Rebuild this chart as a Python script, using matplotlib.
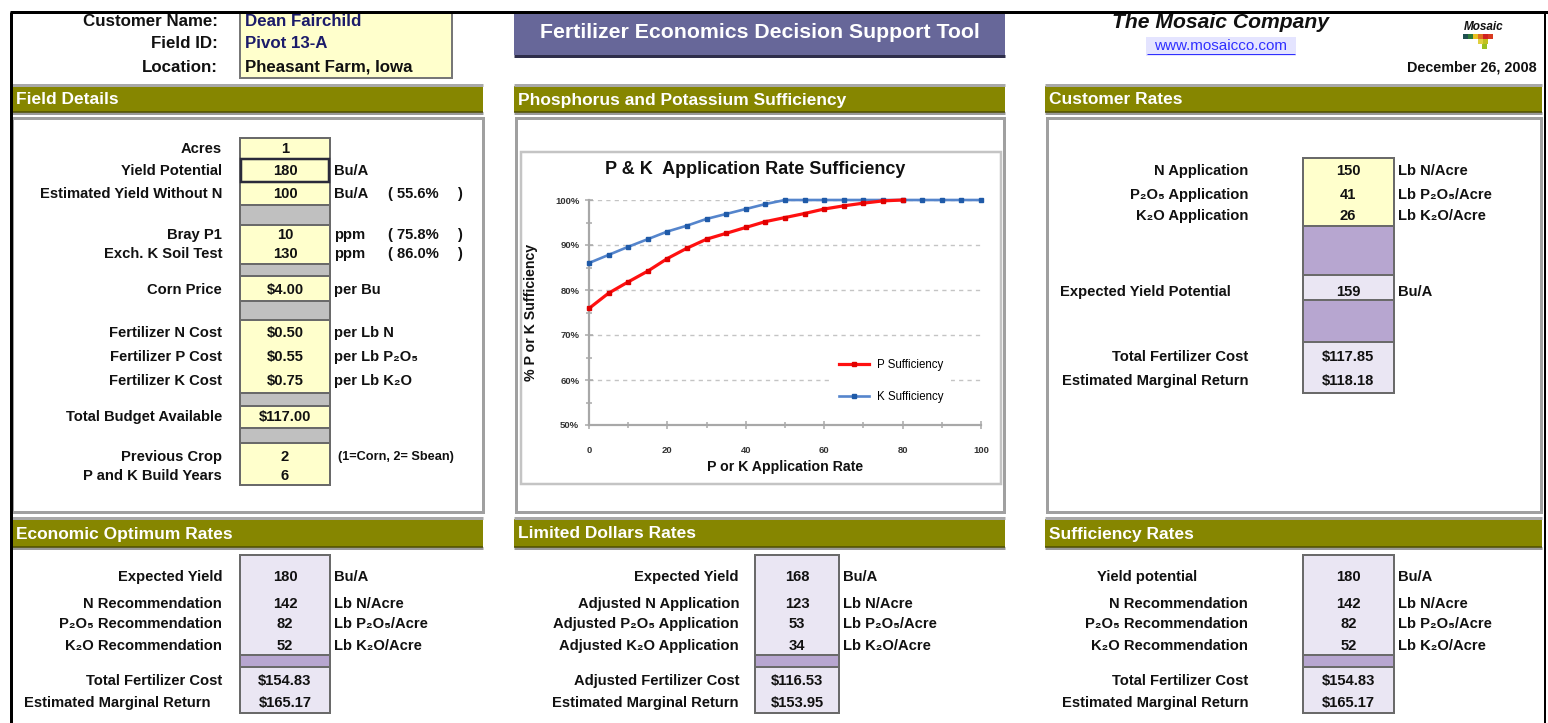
import matplotlib
matplotlib.use('Agg')
import matplotlib.pyplot as plt
from matplotlib.patches import Rectangle
from matplotlib.ticker import MultipleLocator, FuncFormatter

plt.rcParams['font.family'] = ['Liberation Sans', 'DejaVu Sans']

# ---------------- data ----------------
customer_labels = ['Customer Name:', 'Field ID:', 'Location:']
customer_values = ['Dean Fairchild', 'Pivot 13-A', 'Pheasant Farm, Iowa']
tool_title = 'Fertilizer Economics Decision Support Tool'
company = 'The Mosaic Company'
website = 'www.mosaicco.com'
report_date = 'December 26, 2008'

section_titles = ['Field Details', 'Phosphorus and Potassium Sufficiency', 'Customer Rates',
                  'Economic Optimum Rates', 'Limited Dollars Rates', 'Sufficiency Rates']

field_labels = ['Acres', 'Yield Potential', 'Estimated Yield Without N', 'Bray P1',
                'Exch. K Soil Test', 'Corn Price', 'Fertilizer N Cost', 'Fertilizer P Cost',
                'Fertilizer K Cost', 'Total Budget Available', 'Previous Crop', 'P and K Build Years']
field_values = ['1', '180', '100', '10', '130', '$4.00', '$0.50', '$0.55', '$0.75',
                '$117.00', '2', '6']
field_units = ['', 'Bu/A', 'Bu/A', 'ppm', 'ppm', 'per Bu', 'per Lb N', 'per Lb P\u2082O\u2085',
               'per Lb K\u2082O', '', '(1=Corn, 2= Sbean)', '']
field_pcts = ['', '', '55.6%', '75.8%', '86.0%', '', '', '', '', '', '', '']

customer_rate_labels = ['N Application', 'P\u2082O\u2085 Application', 'K\u2082O Application',
                        'Expected Yield Potential', 'Total Fertilizer Cost',
                        'Estimated Marginal Return']
customer_rate_values = ['150', '41', '26', '159', '$117.85', '$118.18']
customer_rate_units = ['Lb N/Acre', 'Lb P\u2082O\u2085/Acre', 'Lb K\u2082O/Acre', 'Bu/A', '', '']

econ_labels = ['Expected Yield', 'N Recommendation', 'P\u2082O\u2085 Recommendation',
               'K\u2082O Recommendation', 'Total Fertilizer Cost', 'Estimated Marginal Return']
econ_values = ['180', '142', '82', '52', '$154.83', '$165.17']
limited_labels = ['Expected Yield', 'Adjusted N Application', 'Adjusted P\u2082O\u2085 Application',
                  'Adjusted K\u2082O Application', 'Adjusted Fertilizer Cost',
                  'Estimated Marginal Return']
limited_values = ['168', '123', '53', '34', '$116.53', '$153.95']
suff_labels = ['Yield potential', 'N Recommendation', 'P\u2082O\u2085 Recommendation',
               'K\u2082O Recommendation', 'Total Fertilizer Cost', 'Estimated Marginal Return']
suff_values = ['180', '142', '82', '52', '$154.83', '$165.17']
bottom_units = ['Bu/A', 'Lb N/Acre', 'Lb P\u2082O\u2085/Acre', 'Lb K\u2082O/Acre', '', '']

chart_title = 'P & K  Application Rate Sufficiency'
x_label = 'P or K Application Rate'
y_label = '% P or K Sufficiency'
app_rate_p = [0, 5, 10, 15, 20, 25, 30, 35, 40, 45, 50, 55, 60, 65, 70, 75, 80]
p_sufficiency = [75.9, 79.3, 81.8, 84.2, 87.0, 89.3, 91.3, 92.6, 93.9, 95.2, 96.1, 97.0,
                 98.0, 98.7, 99.3, 99.8, 100.0]
app_rate_k = [0, 5, 10, 15, 20, 25, 30, 35, 40, 45, 50, 55, 60, 65, 70, 75, 80, 85, 90, 95, 100]
k_sufficiency = [86.0, 87.8, 89.6, 91.3, 93.0, 94.3, 95.8, 96.9, 98.0, 99.1, 100.0, 100.0,
                 100.0, 100.0, 100.0, 100.0, 100.0, 100.0, 100.0, 100.0, 100.0]
series_names = ['P Sufficiency', 'K Sufficiency']

# ---------------- styles ----------------
W, H = 1548, 723
YEL = '#FFFFCC'
GRY = '#C0C0C0'
PUR = '#B7A6D0'
LAV = '#EAE6F3'
OLIVE = '#868600'
EDGE = '#6a6a6a'
PX = 0.72  # points per pixel
FS = 10.6  # body text size

fig = plt.figure(figsize=(W / 100, H / 100), dpi=100)
bg = fig.add_axes([0, 0, 1, 1])
bg.set_xlim(0, W)
bg.set_ylim(H, 0)
bg.axis('off')


def rect(x0, y0, x1, y1, fc, ec='none', lw=0.0, z=1):
    bg.add_patch(Rectangle((x0, y0), x1 - x0, y1 - y0, facecolor=fc, edgecolor=ec,
                           linewidth=lw * PX, zorder=z))


def line(x0, y0, x1, y1, color, lw, z=3):
    bg.plot([x0, x1], [y0, y1], color=color, lw=lw * PX, zorder=z, solid_capstyle='butt')


def txt(x, y, s, ha='left', size=FS, color='#111111', weight='bold', style='normal', z=6, **kw):
    bg.text(x, y, s, ha=ha, va='center', fontsize=size, color=color, fontweight=weight,
            fontstyle=style, zorder=z, **kw)


def column(x0, x1, segs):
    for (y0, y1, fc) in segs:
        rect(x0, y0, x1, y1, fc, ec=EDGE, lw=2, z=2)


def header(x0, x1, y0, y1, title, size=12.5):
    rect(x0, y0, x1, y1, OLIVE, z=2)
    line(x0, y0 - 1, x1, y0 - 1, '#A8A8A8', 3)
    line(x0, y1 + 1, x1, y1 + 1, '#9a9a9a', 3)
    line(x0, y1 - 0.5, x1, y1 - 0.5, '#4e4e00', 1.5)
    txt(x0 + 4, (y0 + y1) / 2 + 1, title, size=size, color='white')


# ---------------- outer frame ----------------
line(10, 12, 1548, 12, 'black', 3, z=8)
line(10.5, 12, 10.5, H, 'black', 3, z=8)
line(1545, 12, 1545, H, 'black', 2, z=8)

# ---------------- top area ----------------
rect(240, 13, 452, 78, YEL, ec='#777777', lw=2, z=2)
for i, (lab, val) in enumerate(zip(customer_labels, customer_values)):
    y = 21 + i * 23
    txt(218, y, lab, ha='right', size=12.2)
    txt(245, y, val, size=12.2, color='#1c1c6a' if i < 2 else '#111111')

rect(514, 13, 1005, 55, '#676799', z=2)
line(514, 56, 1005, 56, '#2e2e4a', 3)
txt(760, 33, tool_title, ha='center', size=15.3, color='white')

txt(1220, 22, company, ha='center', size=15.2, style='italic')
rect(1146, 37, 1296, 56, '#E4E4FF', z=1)
txt(1221, 46, website, ha='center', size=11, color='#3030ff', weight='normal')
line(1147, 54, 1295, 54, '#3030ff', 1)
txt(1537, 68, report_date, ha='right', size=10.4)

# logo
txt(1484, 27, 'Mosaic', ha='center', size=8.5, style='italic')
for (lx, ly, c) in [(1463, 34, '#1f5050'), (1468, 34, '#2e7a3a'), (1473, 34, '#e8c020'),
                    (1478, 34, '#e07020'), (1483, 34, '#d02020'), (1488, 34, '#d83a20'),
                    (1478, 39, '#e0d040'), (1483, 39, '#c0c020'), (1482, 44, '#9ac020')]:
    rect(lx, ly, lx + 5, ly + 5, c, z=3)

# ---------------- section headers ----------------
header(12, 483, 86, 112, section_titles[0])
header(514, 1005, 86, 112, section_titles[1])
header(1045, 1542, 86, 112, section_titles[2])
header(12, 483, 519, 547, section_titles[3])
header(514, 1005, 519, 547, section_titles[4])
header(1045, 1542, 519, 547, section_titles[5])

# ---------------- panels (row 1) ----------------
rect(12, 118, 483, 512, 'white', ec='#a0a0a0', lw=3, z=1)
rect(516, 118, 1004, 512, 'white', ec='#a0a0a0', lw=3, z=1)
rect(521, 152, 1001, 484, 'white', ec='#c4c4c4', lw=2.5, z=1.5)
rect(1047, 118, 1541, 512, 'white', ec='#a0a0a0', lw=3, z=1)

# ---------------- field details ----------------
column(240, 330, [(138, 205, YEL), (205, 225, GRY), (225, 264, YEL), (264, 276, GRY),
                  (276, 301, YEL), (301, 320, GRY), (320, 393, YEL), (393, 406, GRY),
                  (406, 428, YEL), (428, 443, GRY), (443, 485, YEL)])
rect(241, 159, 329, 182, 'none', ec='#2a2a3a', lw=2.5, z=4)
field_rows_y = [149, 171, 194, 235, 254, 290, 333, 357, 381, 417, 457, 476]
for lab, val, unit, pct, y in zip(field_labels, field_values, field_units, field_pcts, field_rows_y):
    txt(222, y, lab, ha='right')
    txt(285, y, val, ha='center')
    if unit:
        if unit.startswith('('):
            txt(338, y, unit, size=9.2)
        else:
            txt(334, y, unit)
    if pct:
        txt(388, y, '( ' + pct)
        txt(457, y, ')')

# ---------------- customer rates ----------------
column(1303, 1394, [(158, 226, YEL), (226, 275, PUR), (275, 300, LAV), (300, 342, PUR),
                    (342, 393, LAV)])
cust_rows_y = [171, 195, 216, 292, 357, 381]
for i, (lab, val, unit, y) in enumerate(zip(customer_rate_labels, customer_rate_values,
                                            customer_rate_units, cust_rows_y)):
    if i == 3:
        txt(1060, y, lab)
    else:
        txt(1248, y, lab, ha='right')
    txt(1348, y, val, ha='center')
    if unit:
        txt(1398, y, unit)

# ---------------- bottom sections ----------------
bottom_rows_y = [577, 604, 624, 646, 681, 703]
bottom_segs = [(555, 655, LAV), (655, 667, PUR), (667, 713, LAV)]
panels = [(econ_labels, econ_values, 240, 330, 222),
          (limited_labels, limited_values, 755, 839, 739),
          (suff_labels, suff_values, 1303, 1394, 1248)]
for k, (labels, values, x0, x1, lx) in enumerate(panels):
    column(x0, x1, bottom_segs)
    for i, (lab, val, unit, y) in enumerate(zip(labels, values, bottom_units, bottom_rows_y)):
        if k == 0 and i == 5:
            txt(24, y, lab)
        elif k == 2 and i == 0:
            txt(1097, y, lab)
        else:
            txt(lx, y, lab, ha='right')
        txt((x0 + x1) / 2, y, val, ha='center')
        if unit:
            txt(x1 + 4, y, unit)

# ---------------- chart ----------------
ax = fig.add_axes([589 / W, 1 - 425 / H, 392 / W, 225 / H])
ax.set_facecolor('none')
ax.plot(app_rate_k, k_sufficiency, color='#5585cc', lw=1.9, marker='s', ms=2.7,
        mfc='#1f5aa8', mec='#1f5aa8', label=series_names[1], zorder=3, clip_on=False)
ax.plot(app_rate_p, p_sufficiency, color='#ff1010', lw=2.3, marker='s', ms=2.4,
        mfc='#e00000', mec='#e00000', label=series_names[0], zorder=4, clip_on=False)
ax.set_xlim(0, 100)
ax.set_ylim(50, 100)
ax.xaxis.set_major_locator(MultipleLocator(20))
ax.xaxis.set_minor_locator(MultipleLocator(10))
ax.yaxis.set_major_locator(MultipleLocator(10))
ax.yaxis.set_minor_locator(MultipleLocator(5))
ax.yaxis.set_major_formatter(FuncFormatter(lambda v, p: f'{v:.0f}%'))
for s in ['top', 'right']:
    ax.spines[s].set_visible(False)
for s in ['left', 'bottom']:
    ax.spines[s].set_color('#a8a8a8')
    ax.spines[s].set_linewidth(2.2 * PX)
ax.tick_params(which='both', color='#a8a8a8', width=1.5 * PX, direction='inout')
ax.tick_params(which='major', length=6, labelsize=6.8, labelcolor='#333333')
ax.tick_params(which='minor', length=4)
ax.tick_params(axis='x', pad=12)
ax.tick_params(axis='y', pad=4)
for t in ax.get_xticklabels() + ax.get_yticklabels():
    t.set_fontweight('bold')
ax.yaxis.grid(True, which='major', ls=(0, (3, 3)), color='#c4c4c4', lw=1.4 * PX)
ax.set_axisbelow(True)
handles, labels = ax.get_legend_handles_labels()
leg = ax.legend(handles[::-1], labels[::-1], loc='center', bbox_to_anchor=(0.772, 0.196),
                frameon=True, facecolor='white', edgecolor='none', framealpha=1,
                fontsize=8.3, labelspacing=1.7, handlelength=2.6, handletextpad=0.7,
                borderpad=0.6)
txt(755, 170, chart_title, ha='center', size=13)
txt(785, 467, x_label, ha='center', size=10.2)
txt(531, 312, y_label, ha='center', size=10.2, rotation=90)

fig.savefig('out.png', dpi=100)
